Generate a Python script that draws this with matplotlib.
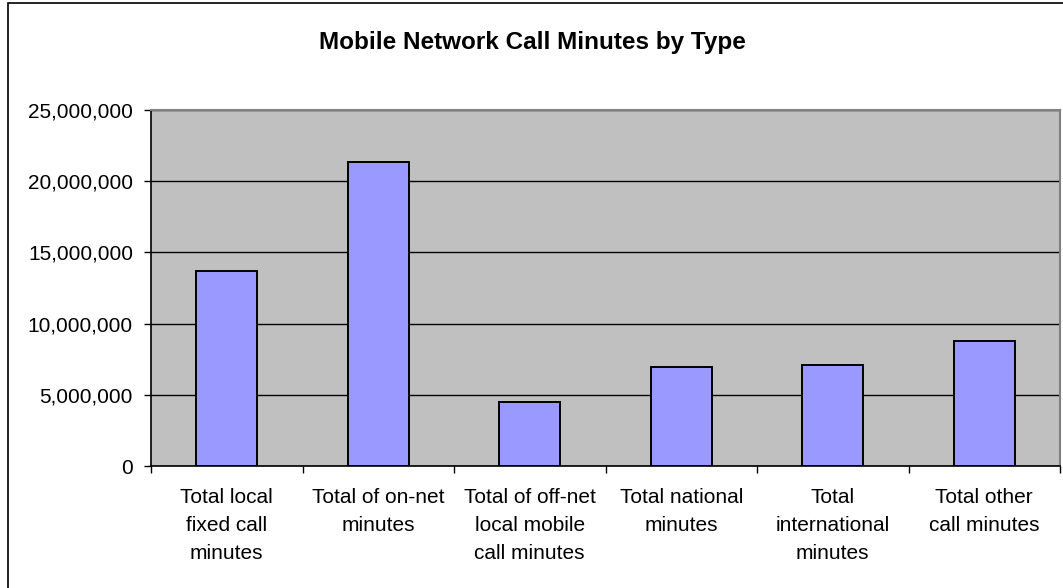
import matplotlib
matplotlib.use('Agg')
import matplotlib.pyplot as plt
from matplotlib.patches import Rectangle
from matplotlib.ticker import FuncFormatter, MultipleLocator

plt.rcParams['font.family'] = ['Liberation Sans', 'DejaVu Sans']

categories = [
    'Total local\nfixed call\nminutes',
    'Total of on-net\nminutes',
    'Total of off-net\nlocal mobile\ncall minutes',
    'Total national\nminutes',
    'Total\ninternational\nminutes',
    'Total other\ncall minutes',
]
minutes = [13700000, 21350000, 4520000, 6950000, 7090000, 8800000]

W, H = 1063, 588
fig = plt.figure(figsize=(W / 100, H / 100), dpi=100)
ax = fig.add_axes([151 / W, (H - 466) / H, (1060 - 151) / W, (466 - 110) / H])

# cadre du graphique
fig.patches.append(Rectangle((8 / W, -0.02), 1.2, (H - 3) / H + 0.02,
                             transform=fig.transFigure, fill=False,
                             edgecolor='black', linewidth=1.2))

ax.set_facecolor('#C0C0C0')
ax.bar(range(len(minutes)), minutes, width=0.4, color='#9999FF',
       edgecolor='black', linewidth=1.4, zorder=3)

ax.set_ylim(0, 25000000)
ax.set_xlim(-0.5, len(minutes) - 0.5)
ax.yaxis.set_major_locator(MultipleLocator(5000000))
ax.yaxis.set_major_formatter(FuncFormatter(lambda v, p: f'{int(v):,}'))
ax.grid(axis='y', color='black', linewidth=1, zorder=1)

ax.set_xticks(range(len(categories)))
ax.set_xticklabels(categories, linespacing=1.6)
ax.set_xticks([i - 0.5 for i in range(len(categories) + 1)], minor=True)
ax.tick_params(axis='x', which='major', length=0, pad=16, labelsize=15)
ax.tick_params(axis='x', which='minor', length=5, width=1, color='black')
ax.tick_params(axis='y', length=5, width=1, pad=8, labelsize=15)

for s in ['top', 'right']:
    ax.spines[s].set_color('#808080')
    ax.spines[s].set_linewidth(1.5)
for s in ['left', 'bottom']:
    ax.spines[s].set_color('black')
    ax.spines[s].set_linewidth(1.2)

fig.text(532 / W, 1 - 42 / H, 'Mobile Network Call Minutes by Type',
         ha='center', va='center', fontsize=17.5, fontweight='bold')

fig.savefig('out.png', dpi=100)
